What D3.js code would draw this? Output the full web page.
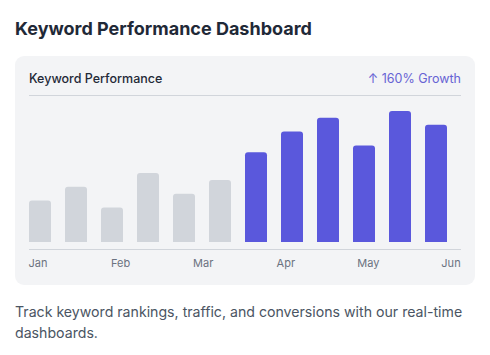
<!DOCTYPE html>
<html><head><meta charset="utf-8">
<script src="https://cdn.jsdelivr.net/npm/d3@7"></script>
<style>
html,body{margin:0;padding:0;background:#fff;}
svg{display:block;font-family:Inter,"Noto Sans",sans-serif;}
</style></head>
<body>
<svg id="c" width="490" height="355"></svg>
<script>
const weeks = ["W1","W2","W3","W4","W5","W6","W7","W8","W9","W10","W11","W12"];
const values = [30,40,25,50,35,45,65,80,90,70,95,85];
const highlighted = [false,false,false,false,false,false,true,true,true,true,true,true];
const monthLabels = ["Jan","Feb","Mar","Apr","May","Jun"];

const svg = d3.select("#c");

svg.append("text").attr("x",15).attr("y",35)
  .attr("font-size",18).attr("font-weight",700).attr("fill","#1f2937")
  .text("Keyword Performance Dashboard");

svg.append("rect").attr("x",15).attr("y",56).attr("width",460).attr("height",229)
  .attr("rx",9).attr("fill","#f3f4f6");

svg.append("text").attr("x",29).attr("y",83)
  .attr("font-size",12.5).attr("font-weight",500).attr("fill","#1f2937")
  .text("Keyword Performance");
svg.append("text").attr("x",461).attr("y",83).attr("text-anchor","end")
  .attr("font-size",12.5).attr("fill","#6763d4")
  .text("↑ 160% Growth");

svg.append("line").attr("x1",29).attr("x2",461).attr("y1",95.5).attr("y2",95.5)
  .attr("stroke","#d1d5db").attr("stroke-width",1);

const x = d3.scaleBand().domain(weeks).range([29,447]).paddingInner(14/36).paddingOuter(0);
const y = d3.scaleLinear().domain([0,100]).range([242,104]);

const r = 3;
function barPath(x0,w,top,bottom){
  return `M${x0},${bottom}V${top+r}Q${x0},${top} ${x0+r},${top}H${x0+w-r}Q${x0+w},${top} ${x0+w},${top+r}V${bottom}Z`;
}
svg.append("g").selectAll("path").data(values).join("path")
  .attr("d",(d,i)=>barPath(x(weeks[i]),x.bandwidth(),y(d),y(0)))
  .attr("fill",(d,i)=>highlighted[i]?"#5a58dc":"#d1d5db");

svg.append("line").attr("x1",29).attr("x2",461).attr("y1",249.5).attr("y2",249.5)
  .attr("stroke","#d1d5db").attr("stroke-width",1);

const xm = d3.scalePoint().domain(monthLabels).range([38,451]);
svg.append("g").selectAll("text").data(monthLabels).join("text")
  .attr("x",d=>xm(d)).attr("y",266.5).attr("text-anchor","middle")
  .attr("font-size",11).attr("fill","#6b7280").text(d=>d);

const foot = svg.append("text").attr("font-size",14.15).attr("fill","#4b5563");
foot.append("tspan").attr("x",15).attr("y",317)
  .text("Track keyword rankings, traffic, and conversions with our real-time");
foot.append("tspan").attr("x",15).attr("y",338).text("dashboards.");
</script>
</body></html>
